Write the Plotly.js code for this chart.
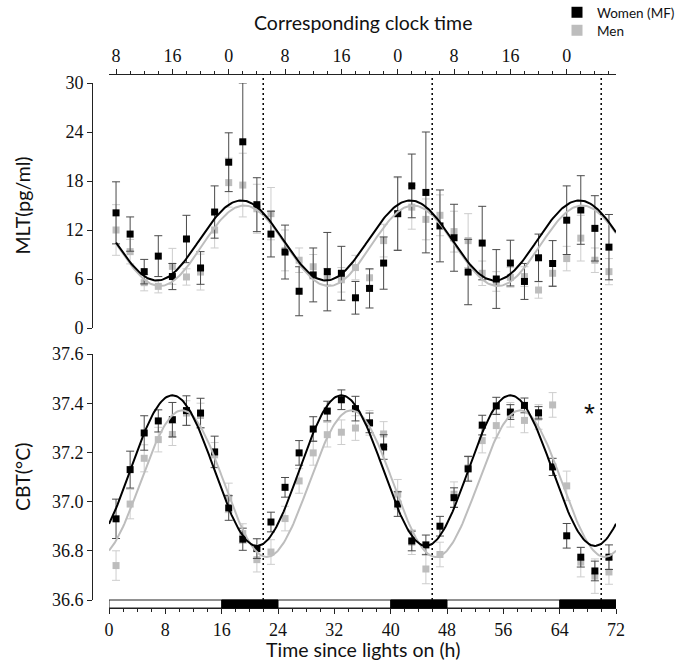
<!DOCTYPE html>
<html>
<head>
<meta charset="utf-8">
<script src="https://cdn.plot.ly/plotly-3.0.1.min.js"></script>
<style>html,body{margin:0;padding:0;background:#fff;}#chart{width:677px;height:670px;}</style>
</head>
<body>
<div id="chart"></div>
<script>
// ---- data ----
const hours = [1,3,5,7,9,11,13,15,17,19,21,23,25,27,29,31,33,35,37,39,41,43,45,47,49,51,53,55,57,59,61,63,65,67,69,71];

const mltWomen = [14.1,11.5,6.9,8.8,6.3,10.9,7.35,14.2,20.3,22.8,15.1,11.5,
                  9.3,4.5,6.5,6.9,6.7,3.7,4.85,7.95,14.0,17.4,16.6,12.5,
                  11.05,6.85,10.4,6.0,7.95,5.7,8.6,7.9,13.2,14.45,12.2,9.9];
const mltWomenErr = [3.8,2.1,1.5,2.5,1.6,2.9,2.0,3.2,3.6,7.2,3.3,2.8,
                     3.3,3.0,3.3,4.8,3.3,2.0,2.4,3.2,4.5,3.9,7.4,4.4,
                     4.1,4.0,4.5,3.6,2.8,2.2,2.9,2.8,4.2,4.2,4.0,4.0];
const mltMen = [12.0,9.35,5.55,5.1,7.55,6.25,6.85,12.0,17.8,17.5,14.6,14.0,
                9.5,8.3,7.5,6.3,5.9,7.4,6.15,10.7,14.0,14.8,13.3,13.8,
                11.8,10.7,6.7,5.7,6.2,6.3,4.65,6.7,8.5,11.0,8.3,6.9];
const mltMenErr = [3.1,1.5,1.0,0.8,2.2,1.0,2.2,2.2,3.0,3.9,3.0,3.2,
                   2.5,1.5,1.5,1.0,1.5,1.5,1.0,2.0,4.4,2.7,2.5,2.5,
                   2.5,3.3,1.5,1.2,1.2,1.2,1.0,1.5,1.5,2.8,1.5,1.6];

const cbtWomen = [36.93,37.13,37.279,37.328,37.333,37.37,37.36,37.202,36.974,36.847,36.809,36.917,
                  37.058,37.198,37.295,37.368,37.414,37.378,37.32,37.222,36.99,36.84,36.824,36.90,
                  37.016,37.133,37.311,37.389,37.364,37.391,37.361,37.141,36.861,36.774,36.718,36.774];
const cbtWomenErr = [0.08,0.075,0.07,0.045,0.07,0.06,0.06,0.064,0.05,0.045,0.04,0.04,
                     0.04,0.05,0.05,0.04,0.04,0.05,0.04,0.05,0.05,0.04,0.04,0.04,
                     0.04,0.05,0.04,0.035,0.03,0.03,0.025,0.035,0.05,0.04,0.04,0.05];
const cbtMen = [36.74,36.99,37.176,37.252,37.273,37.36,37.35,37.19,37.015,36.87,36.764,36.795,
                36.931,37.084,37.198,37.272,37.282,37.299,37.32,37.275,37.03,36.835,36.726,36.785,
                37.03,37.137,37.248,37.309,37.353,37.33,37.344,37.393,37.064,36.754,36.697,36.714];
const cbtMenErr = [0.06,0.06,0.055,0.05,0.045,0.05,0.05,0.05,0.06,0.04,0.05,0.05,
                   0.05,0.05,0.05,0.05,0.05,0.05,0.05,0.05,0.06,0.05,0.06,0.05,
                   0.05,0.05,0.05,0.05,0.05,0.05,0.05,0.05,0.06,0.06,0.07,0.05];

// cosinor fits: [mesor, amplitude, acrophase (h), start (h), end (h)]
const fitMltWomen = [10.72, 4.9, 18.8, 1, 72];
const fitMltMen   = [10.07, 4.93, 19.2, 1, 72];
const fitCbtWomen = [37.126, 0.306, 9.0, 0, 72];
const fitCbtMen   = [37.073, 0.298, 10.4, 0, 72];
const period = 24;

const refTimes = [21.9, 45.9, 69.9];           // dotted vertical markers
const lightsOff = [[16,24],[40,48],[64,72]];  // dark periods
const lightsSpan = [0,72];

const bottomTicks = [0,8,16,24,32,40,48,56,64,72];
const clockTickHours = [1,9,17,25,33,41,49,57,65];
const clockTickText = ['8','16','0','8','16','0','8','16','0'];
const mltTicks = [0,6,12,18,24,30];
const cbtTicks = [36.6,36.8,37.0,37.2,37.4,37.6];

const seriesNames = ['Women (MF)','Men'];
const starPos = [68.2, 37.36];

// ---- layout helpers (pixel positions) ----
const W = 677, H = 670;
const px = x => x / W;
const py = y => 1 - y / H;
const X0 = 109, X1 = 616;
const MLT_TOP = 83, MLT_BOT = 328, CBT_TOP = 354, CBT_BOT = 600, BAR_BOT = 608, TOPAXIS = 74, YAXIS_X = 92;

const BLACK = '#000000', GRAY = '#bdbdbd', BERR = '#4a4a4a', GERR = '#cdcdcd';

function cosCurve(p) {
  const xs = [], ys = [];
  for (let t = p[3]; t <= p[4] + 1e-9; t += 0.2) {
    xs.push(t);
    ys.push(p[0] + p[1] * Math.cos(2 * Math.PI * (t - p[2]) / period));
  }
  return {xs, ys};
}

function pts(y, err, color, ecolor, yaxis) {
  return {x: hours, y: y, type: 'scatter', mode: 'markers', xaxis: 'x', yaxis: yaxis,
    marker: {symbol: 'square', size: 7, color: color},
    error_y: {type: 'data', array: err, visible: true, color: ecolor, thickness: 1, width: 4},
    showlegend: false, hoverinfo: 'skip'};
}
function curve(p, color, yaxis) {
  const c = cosCurve(p);
  return {x: c.xs, y: c.ys, type: 'scatter', mode: 'lines', xaxis: 'x', yaxis: yaxis,
    line: {color: color, width: 2}, showlegend: false, hoverinfo: 'skip'};
}

const traces = [
  pts(mltMen, mltMenErr, GRAY, GERR, 'y'),
  pts(mltWomen, mltWomenErr, BLACK, BERR, 'y'),
  pts(cbtMen, cbtMenErr, GRAY, GERR, 'y2'),
  pts(cbtWomen, cbtWomenErr, BLACK, BERR, 'y2'),
  curve(fitMltMen, GRAY, 'y'),
  curve(fitMltWomen, BLACK, 'y'),
  curve(fitCbtMen, GRAY, 'y2'),
  curve(fitCbtWomen, BLACK, 'y2'),
  {x: [null], y: [null], type: 'scatter', mode: 'markers', name: seriesNames[0], legend: 'legend',
   marker: {symbol: 'square', size: 11, color: BLACK}, xaxis: 'x', yaxis: 'y'},
  {x: [null], y: [null], type: 'scatter', mode: 'markers', name: seriesNames[1], legend: 'legend2',
   marker: {symbol: 'square', size: 11, color: GRAY}, xaxis: 'x', yaxis: 'y'},
  {x: lightsSpan, y: [null, null], type: 'scatter', mode: 'markers', xaxis: 'x3', yaxis: 'y',
   showlegend: false, hoverinfo: 'skip'}
];

const shapes = [];
refTimes.forEach(t => shapes.push({type: 'line', xref: 'x', yref: 'paper', x0: t, x1: t,
  y0: py(CBT_BOT), y1: py(TOPAXIS), line: {color: BLACK, width: 1.5, dash: '2px,3px'}}));
shapes.push({type: 'rect', xref: 'x', yref: 'paper', x0: lightsSpan[0], x1: lightsSpan[1],
  y0: py(BAR_BOT), y1: py(CBT_BOT), fillcolor: '#ffffff', line: {color: '#222', width: 1}});
lightsOff.forEach(r => shapes.push({type: 'rect', xref: 'x', yref: 'paper', x0: r[0], x1: r[1],
  y0: py(BAR_BOT), y1: py(CBT_BOT), fillcolor: BLACK, line: {color: BLACK, width: 1}}));

const tickFont = {family: 'Liberation Serif, Times New Roman, serif', size: 18, color: '#111'};
const titleFont = {family: 'Lato, Open Sans, sans-serif', size: 19.5, color: '#111'};
const legFont = {family: 'Lato, Open Sans, sans-serif', size: 13.5, color: '#111'};

const layout = {
  width: W, height: H, margin: {l: 0, r: 0, t: 0, b: 0, autoexpand: false},
  paper_bgcolor: '#fff', plot_bgcolor: '#fff',
  showlegend: true,
  legend: {x: px(557), y: py(-3), xanchor: 'left', yanchor: 'top', bgcolor: 'rgba(0,0,0,0)',
    font: legFont, itemwidth: 30},
  legend2: {x: px(557), y: py(15), xanchor: 'left', yanchor: 'top', bgcolor: 'rgba(0,0,0,0)',
    font: legFont, itemwidth: 30},
  xaxis: {domain: [px(X0), px(X1)], range: [0, 72], anchor: 'free', position: py(BAR_BOT),
    tickmode: 'array', tickvals: bottomTicks, ticks: 'outside', ticklen: 5, tickcolor: '#222',
    minor: {dtick: 2, tick0: 0, ticks: 'outside', ticklen: 3, tickcolor: '#222'},
    showline: true, linecolor: '#222', linewidth: 1, showgrid: false, zeroline: false,
    tickfont: tickFont},
  xaxis3: {overlaying: 'x', side: 'top', anchor: 'free', position: py(TOPAXIS), range: [0, 72],
    tickmode: 'array', tickvals: clockTickHours, ticktext: clockTickText, ticks: 'outside', ticklen: 5,
    tickcolor: '#222', minor: {dtick: 2, tick0: 1, ticks: 'outside', ticklen: 3, tickcolor: '#222'},
    showline: true, linecolor: '#222', linewidth: 1, showgrid: false, zeroline: false, tickfont: tickFont},
  yaxis: {domain: [py(MLT_BOT), py(MLT_TOP)], range: [0, 30], anchor: 'free', position: px(YAXIS_X),
    tickmode: 'array', tickvals: mltTicks, ticks: 'outside', ticklen: 5, tickcolor: '#222',
    showline: true, linecolor: '#222', linewidth: 1, showgrid: false, zeroline: false, tickfont: tickFont},
  yaxis2: {domain: [py(CBT_BOT), py(CBT_TOP)], range: [36.6, 37.6], anchor: 'free', position: px(YAXIS_X),
    tickmode: 'array', tickvals: cbtTicks, tickformat: '.1f', ticks: 'outside', ticklen: 5, tickcolor: '#222',
    showline: true, linecolor: '#222', linewidth: 1, showgrid: false, zeroline: false, tickfont: tickFont},
  shapes: shapes,
  annotations: [
    {text: 'Corresponding clock time', xref: 'paper', yref: 'paper', x: px((X0 + X1) / 2), y: py(22),
     showarrow: false, font: titleFont, xanchor: 'center', yanchor: 'middle'},
    {text: 'Time since lights on (h)', xref: 'paper', yref: 'paper', x: px((X0 + X1) / 2), y: py(649),
     showarrow: false, font: titleFont, xanchor: 'center', yanchor: 'middle'},
    {text: 'MLT(pg/ml)', xref: 'paper', yref: 'paper', x: px(22), y: py((MLT_TOP + MLT_BOT) / 2),
     showarrow: false, font: titleFont, textangle: -90, xanchor: 'center', yanchor: 'middle'},
    {text: 'CBT(°C)', xref: 'paper', yref: 'paper', x: px(22), y: py((CBT_TOP + CBT_BOT) / 2),
     showarrow: false, font: titleFont, textangle: -90, xanchor: 'center', yanchor: 'middle'},
    {text: '*', xref: 'x', yref: 'y2', x: starPos[0], y: starPos[1], showarrow: false,
     font: {family: 'Liberation Sans, Arial, sans-serif', size: 28, color: '#111'}, yanchor: 'middle'}
  ]
};

Plotly.newPlot('chart', traces, layout, {staticPlot: true, displayModeBar: false});
</script>
</body>
</html>
